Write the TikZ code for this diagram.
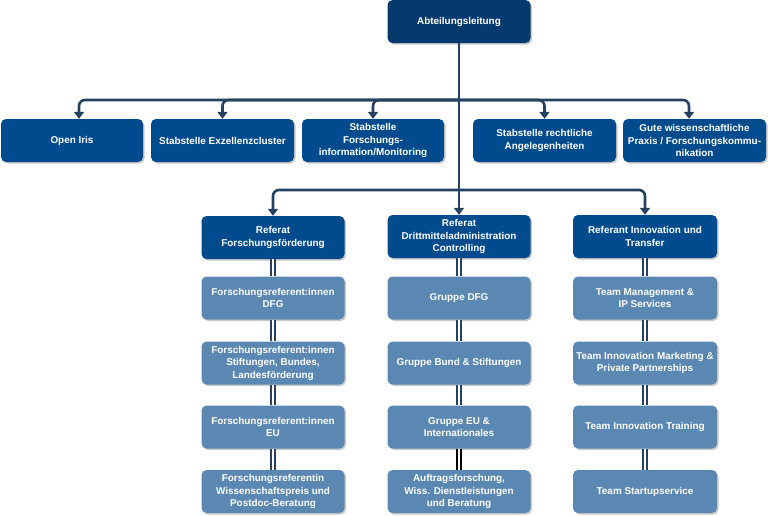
\documentclass[tikz,border=0pt]{standalone}
\usepackage{fontspec}
\setmainfont{Liberation Sans}
\usetikzlibrary{shadows,arrows.meta,calc}
\definecolor{topc}{HTML}{063A6E}
\definecolor{midc}{HTML}{004B8D}
\definecolor{subc}{HTML}{5B88B2}
\definecolor{linec}{HTML}{244260}
\tikzset{
  box/.style={rectangle, rounded corners=5pt, minimum width=143pt, minimum height=43pt,
    text=white, align=center, inner sep=1pt,
    font=\fontsize{9.9}{12.5}\selectfont\bfseries,
    drop shadow={shadow xshift=1.5pt, shadow yshift=-1.5pt, fill=black!35, opacity=0.6}},
  topbox/.style={box, fill=topc},
  midbox/.style={box, fill=midc},
  subbox/.style={box, fill=subc},
  conn/.style={draw=linec, line width=2.6pt},
  arr/.style={draw=linec, line width=2.6pt, rounded corners=6pt,
    -{Triangle[width=10pt,length=7pt]}},
  dbl/.style={draw=linec, line width=1.6pt, double=white, double distance=2pt},
  dblk/.style={draw=black, line width=1.6pt, double=white, double distance=2pt},
}
\begin{document}
\begin{tikzpicture}[x=1pt,y=-1pt]
\useasboundingbox (0,0) rectangle (768,515);
\coordinate (j1) at (459,100);
\coordinate (j2) at (459,190);
% nodes
\node[topbox] (top) at (459,21.5) {Abteilungsleitung};

\node[midbox, minimum width=142pt] (oi) at (72,140.5) {Open Iris};
\node[midbox] (ex) at (222.5,140.5) {Stabstelle Exzellenzcluster};
\node[midbox, minimum width=142pt] (fi) at (373,140.5) {Stabstelle\\Forschungs-\\information/Monitoring};
\node[midbox] (ra) at (544.5,140.5) {Stabstelle rechtliche\\Angelegenheiten};
\node[midbox] (gw) at (694.5,140.5) {Gute wissenschaftliche\\Praxis / Forschungskommu-\\nikation};

\node[midbox] (r1) at (273,237.5) {Referat\\Forschungsförderung};
\node[midbox] (r2) at (459,236.5) {Referat\\Drittmitteladministration\\Controlling};
\node[midbox, minimum width=144pt] (r3) at (645,236.5) {Referant Innovation und\\Transfer};

\node[subbox] (a1) at (273,298) {Forschungsreferent:innen\\DFG};
\node[subbox] (a2) at (273,363) {Forschungsreferent:innen\\Stiftungen, Bundes,\\Landesförderung};
\node[subbox] (a3) at (273,427) {Forschungsreferent:innen\\EU};
\node[subbox] (a4) at (273,491.5) {Forschungsreferentin\\Wissenschaftspreis und\\Postdoc-Beratung};

\node[subbox] (b1) at (459,298) {Gruppe DFG};
\node[subbox] (b2) at (459,363) {Gruppe Bund \& Stiftungen};
\node[subbox] (b3) at (459,427) {Gruppe EU \&\\Internationales};
\node[subbox] (b4) at (459,491.5) {Auftragsforschung,\\Wiss. Dienstleistungen\\und Beratung};

\node[subbox, minimum width=144pt] (c1) at (645,298) {Team Management \&\\IP Services};
\node[subbox, minimum width=144pt] (c2) at (645,363) {Team Innovation Marketing \&\\Private Partnerships};
\node[subbox, minimum width=144pt] (c3) at (645,427) {Team Innovation Training};
\node[subbox, minimum width=144pt] (c4) at (645,491.5) {Team Startupservice};

% connectors
\draw[conn] (top.south) -- (j2);
\draw[arr] (j1) -| ([xshift=7pt]oi.north);
\draw[arr] (j1) -| (ex.north);
\draw[arr] (j1) -| (fi.north);
\draw[arr] (j1) -| (ra.north);
\draw[arr] (j1) -| ([xshift=-5.5pt]gw.north);
\draw[arr] (j2) -| (r1.north);
\draw[arr] (j2) -- (r2.north);
\draw[arr] (j2) -| (r3.north);

\draw[dbl] (r1.south) -- (a1.north);
\draw[dbl] (a1.south) -- (a2.north);
\draw[dbl] (a2.south) -- (a3.north);
\draw[dbl] (a3.south) -- (a4.north);
\draw[dbl] (r2.south) -- (b1.north);
\draw[dbl] (b1.south) -- (b2.north);
\draw[dbl] (b2.south) -- (b3.north);
\draw[dblk] (b3.south) -- (b4.north);
\draw[dbl] (r3.south) -- (c1.north);
\draw[dbl] (c1.south) -- (c2.north);
\draw[dbl] (c2.south) -- (c3.north);
\draw[dbl] (c3.south) -- (c4.north);
\end{tikzpicture}
\end{document}
